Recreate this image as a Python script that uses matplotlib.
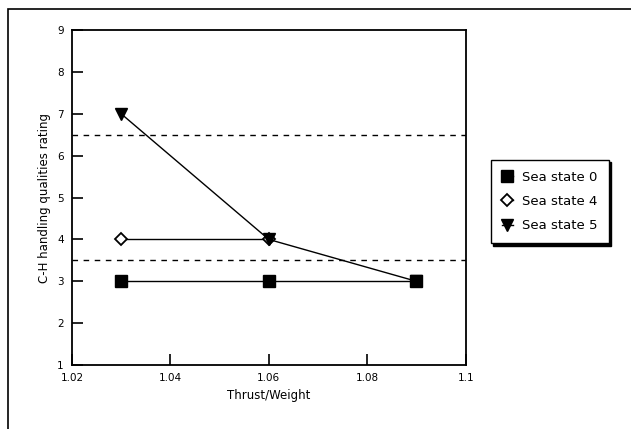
import matplotlib.pyplot as plt
import matplotlib.patches as mpatches

# data
thrust_weight = [1.03, 1.06, 1.09]
sea_state_0 = [3, 3, 3]
sea_state_4 = [4, 4]
sea_state_5 = [7, 4, 3]
level_bounds = [6.5, 3.5]

xticks = [1.02, 1.04, 1.06, 1.08, 1.1]
xticklabels = ["1.02", "1.04", "1.06", "1.08", "1.1"]
yticks = [1, 2, 3, 4, 5, 6, 7, 8, 9]

fig = plt.figure(figsize=(6.31, 4.29), dpi=100)
ax = fig.add_axes([0.114, 0.149, 0.624, 0.781])

for b in level_bounds:
    ax.axhline(b, color="black", lw=1, ls=(0, (4, 4)))

ax.plot(thrust_weight, sea_state_0, color="black", lw=1, marker="s",
        markersize=8, label="Sea state 0")
ax.plot(thrust_weight[:2], sea_state_4, color="black", lw=1, marker="D",
        markersize=6, markerfacecolor="white", markeredgewidth=1.3,
        label="Sea state 4")
ax.plot(thrust_weight, sea_state_5, color="black", lw=1, marker="v",
        markersize=9, label="Sea state 5")

ax.set_xlim(1.02, 1.1)
ax.set_ylim(1, 9)
ax.set_xticks(xticks)
ax.set_xticklabels(xticklabels)
ax.set_yticks(yticks)
ax.tick_params(direction="in", length=8, width=1.2, labelsize=7.5, pad=6)
for s in ax.spines.values():
    s.set_linewidth(1.3)

ax.set_xlabel("Thrust/Weight", fontsize=8.5)
ax.set_ylabel("C-H handling qualities rating", fontsize=8.5, labelpad=4)

fig.legend(loc="upper left", bbox_to_anchor=(0.778, 0.628), fontsize=9.5,
           frameon=True, fancybox=False,
           shadow={"ox": 1.5, "oy": -1.5, "color": "black", "alpha": 1},
           edgecolor="black", framealpha=1, handlelength=0.8,
           handletextpad=0.7, borderpad=0.85, labelspacing=0.85,
           borderaxespad=0)

# outer frame around the whole figure (cut off at right and bottom)
fig.patches.append(mpatches.Rectangle((0.013, -0.2), 1.2, 1.179,
                                      transform=fig.transFigure,
                                      fill=False, edgecolor="black", lw=1.2))

fig.savefig("out.png", dpi=100)
